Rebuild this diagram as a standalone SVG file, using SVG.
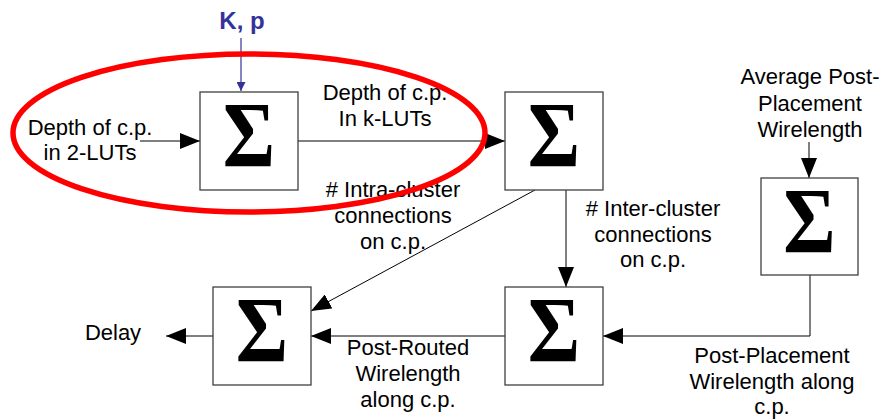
<svg xmlns="http://www.w3.org/2000/svg" width="881" height="419" viewBox="0 0 881 419">
<style>
.box{fill:#fff;stroke:#404040;stroke-width:1.3}
.sig{font-family:"Liberation Serif","Times New Roman",serif;font-weight:bold;font-size:80px;text-anchor:middle;fill:#000}
.lbl{font-family:"Liberation Sans",Arial,sans-serif;font-size:22px;text-anchor:middle;fill:#000}
.ln{fill:none;stroke:#000;stroke-width:1}
</style>
<defs>
<marker id="ah" markerWidth="20" markerHeight="16" refX="20" refY="8" orient="auto" markerUnits="userSpaceOnUse">
<path d="M0,0 L20,8 L0,16 Z" fill="#000"/>
</marker>
<marker id="ahb" markerWidth="9" markerHeight="9" refX="9" refY="4.5" orient="auto" markerUnits="userSpaceOnUse">
<path d="M0,0 L9,4.5 L0,9 Z" fill="#333399"/>
</marker>
</defs>
<g id="connectors">
<line class="ln" x1="140" y1="141" x2="200" y2="141" marker-end="url(#ah)"/>
<line class="ln" x1="298" y1="141" x2="505" y2="141" marker-end="url(#ah)"/>
<line x1="241" y1="38" x2="241" y2="91" stroke="#333399" stroke-width="1.2" marker-end="url(#ahb)"/>
<line class="ln" x1="535" y1="190" x2="311" y2="311" marker-end="url(#ah)"/>
<line class="ln" x1="566" y1="190" x2="566" y2="287" marker-end="url(#ah)"/>
<line class="ln" x1="809" y1="142" x2="809" y2="178" marker-end="url(#ah)"/>
<polyline class="ln" points="810,275 810,336 603,336" marker-end="url(#ah)"/>
<line class="ln" x1="505" y1="336" x2="311" y2="336" marker-end="url(#ah)"/>
<line class="ln" x1="213" y1="336" x2="166" y2="336" marker-end="url(#ah)"/>
</g>
<g id="node1">
<rect class="box" x="200" y="92" width="98" height="98"/>
<text class="sig" transform="translate(249,166) scale(1,1.17)">Σ</text>
</g>
<g id="node2">
<rect class="box" x="505" y="92" width="98" height="98"/>
<text class="sig" transform="translate(554,166) scale(1,1.17)">Σ</text>
</g>
<g id="node3">
<rect class="box" x="761" y="178" width="97" height="97"/>
<text class="sig" transform="translate(809.5,252) scale(1,1.17)">Σ</text>
</g>
<g id="node4">
<rect class="box" x="505" y="287" width="98" height="98"/>
<text class="sig" transform="translate(554,361) scale(1,1.17)">Σ</text>
</g>
<g id="node5">
<rect class="box" x="213" y="287" width="98" height="98"/>
<text class="sig" transform="translate(262,361) scale(1,1.17)">Σ</text>
</g>
<g id="labels">
<text x="242" y="29" font-family="Liberation Sans,Arial,sans-serif" font-weight="bold" font-size="24" fill="#333399" text-anchor="middle">K, p</text>
<text class="lbl" x="90" y="135">Depth of c.p.</text>
<text class="lbl" x="90" y="160">in 2-LUTs</text>
<text class="lbl" x="385" y="100">Depth of c.p.</text>
<text class="lbl" x="385" y="126">In k-LUTs</text>
<text class="lbl" x="393" y="197">#  Intra-cluster</text>
<text class="lbl" x="393" y="223">connections</text>
<text class="lbl" x="393" y="249">on c.p.</text>
<text class="lbl" x="653" y="216">#  Inter-cluster</text>
<text class="lbl" x="653" y="242">connections</text>
<text class="lbl" x="653" y="267">on c.p.</text>
<text class="lbl" x="810" y="84">Average Post-</text>
<text class="lbl" x="810" y="111">Placement</text>
<text class="lbl" x="810" y="137">Wirelength</text>
<text class="lbl" x="113" y="340">Delay</text>
<text class="lbl" x="408" y="355">Post-Routed</text>
<text class="lbl" x="408" y="381">Wirelength</text>
<text class="lbl" x="408" y="407">along c.p.</text>
<text class="lbl" x="772" y="363">Post-Placement</text>
<text class="lbl" x="772" y="389">Wirelength along</text>
<text class="lbl" x="772" y="414">c.p.</text>
</g>
<ellipse cx="249" cy="133" rx="236" ry="79" fill="none" stroke="#ff0000" stroke-width="5.5"/>
</svg>
